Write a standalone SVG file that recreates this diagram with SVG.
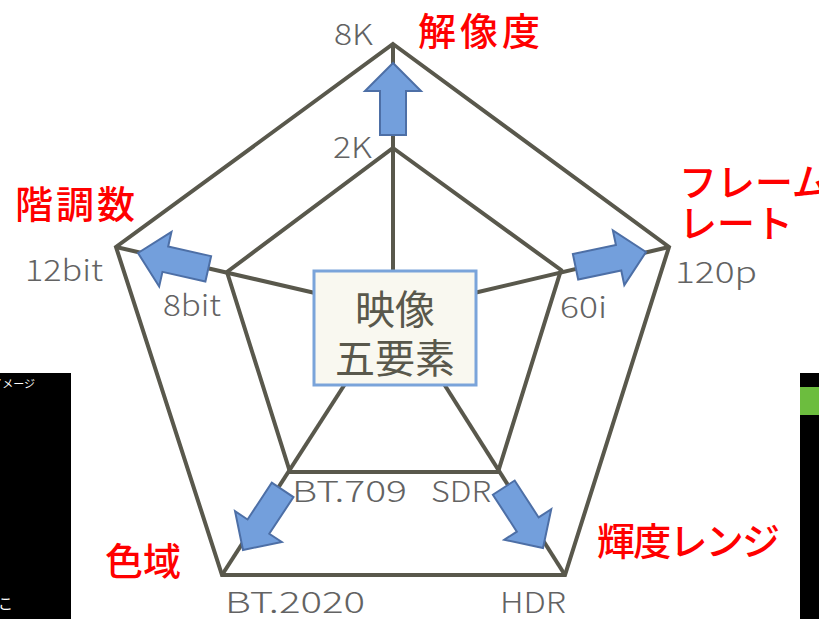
<svg xmlns="http://www.w3.org/2000/svg" width="819" height="619" viewBox="0 0 819 619">
<style>
.ln{fill:none;stroke:#59584c;stroke-width:4;stroke-linejoin:miter}
.arw{fill:#739fdc;stroke:#4d6fa6;stroke-width:2}
.lbl{font-family:"Noto Sans CJK JP","Noto Sans",sans-serif;font-size:29px;fill:#636363;font-weight:300}
.red{font-family:"Noto Sans CJK JP",sans-serif;font-size:38px;fill:#ff0000;font-weight:500}
.box{font-family:"Noto Sans CJK JP",sans-serif;font-size:40px;fill:#59584c}
</style>
<defs>
<polygon id="arrow" points="0,0 -28,-28 -28,-13 -72,-13 -72,13 -28,13 -28,28"/>
</defs>
<rect width="819" height="619" fill="#ffffff"/>
<g id="panels">
<rect x="0" y="373" width="71" height="246" fill="#000000"/>
<text x="35" y="388" text-anchor="end" font-family="Noto Sans CJK JP,sans-serif" font-size="11" fill="#ffffff">イメージ</text>
<text x="-2" y="609" font-family="Noto Sans CJK JP,sans-serif" font-size="15" fill="#ffffff">こ</text>
<rect x="800" y="373" width="19" height="246" fill="#000000"/>
<rect x="800" y="387" width="19" height="28" fill="#6cbd3e"/>
</g>
<g id="connectors">
<polygon class="ln" points="393,44 669,247 565,575 222,575 116,247"/>
<polygon class="ln" points="393,148 561,270 498,472 290,472 227,272"/>
<line class="ln" x1="393" y1="44" x2="393" y2="272"/>
<line class="ln" x1="116" y1="247" x2="315" y2="293"/>
<line class="ln" x1="669" y1="247" x2="474" y2="293"/>
<line class="ln" x1="222" y1="575" x2="345" y2="384"/>
<line class="ln" x1="565" y1="575" x2="444" y2="384"/>
</g>
<g id="arrows">
<use href="#arrow" class="arw" transform="translate(393,63) rotate(-90)"/>
<use href="#arrow" class="arw" transform="translate(138,253) rotate(192.7)"/>
<use href="#arrow" class="arw" transform="translate(646,252) rotate(-11.8)"/>
<use href="#arrow" class="arw" transform="translate(243,550) rotate(123.4)"/>
<use href="#arrow" class="arw" transform="translate(543,548) rotate(57)"/>
</g>
<g id="center">
<rect x="314" y="271" width="162" height="114" fill="#f9f8f0" stroke="#7aa4da" stroke-width="3"/>
<text class="box" x="395" y="324" text-anchor="middle">映像</text>
<text class="box" x="395" y="373" text-anchor="middle">五要素</text>
</g>
<g id="labels">
<text class="lbl" x="334" y="45" textLength="39" lengthAdjust="spacingAndGlyphs">8K</text>
<text class="lbl" x="333" y="158" textLength="39" lengthAdjust="spacingAndGlyphs">2K</text>
<text class="lbl" x="25" y="281" textLength="78" lengthAdjust="spacingAndGlyphs">12bit</text>
<text class="lbl" x="163" y="316" textLength="58" lengthAdjust="spacingAndGlyphs">8bit</text>
<text class="lbl" x="675" y="283" textLength="82" lengthAdjust="spacingAndGlyphs">120p</text>
<text class="lbl" x="560" y="318" textLength="47" lengthAdjust="spacingAndGlyphs">60i</text>
<text class="lbl" x="292" y="502" textLength="115" lengthAdjust="spacingAndGlyphs">BT.709</text>
<text class="lbl" x="431" y="502" textLength="60" lengthAdjust="spacingAndGlyphs">SDR</text>
<text class="lbl" x="225" y="613" textLength="140" lengthAdjust="spacingAndGlyphs">BT.2020</text>
<text class="lbl" x="500" y="613" textLength="66" lengthAdjust="spacingAndGlyphs">HDR</text>
</g>
<g id="titles">
<text class="red" x="418" y="45" textLength="122">解像度</text>
<text class="red" x="15" y="218" textLength="120">階調数</text>
<text class="red" x="679" y="196" font-size="36">フレーム</text>
<text class="red" x="679" y="237" font-size="36">レート</text>
<text class="red" x="105" y="575" font-size="40">色域</text>
<text class="red" x="597" y="555" textLength="183">輝度レンジ</text>
</g>
</svg>
